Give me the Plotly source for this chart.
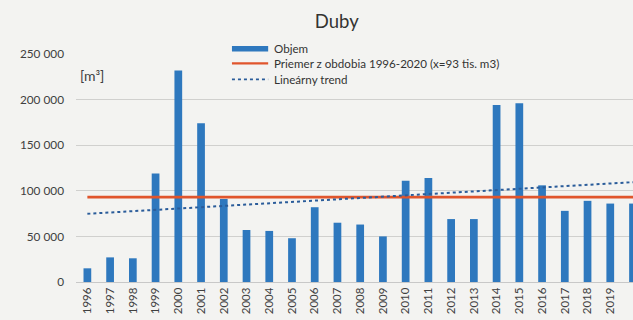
import numpy as np
import plotly.graph_objects as go

# Ročný objem ťažby dreva – duby [m3]
years = list(range(1996, 2021))
volume = [15000, 27000, 26000, 119000, 232000, 174000, 91000, 57000, 56000, 48000,
          82000, 65000, 63000, 50000, 111000, 114000, 69000, 69000, 194000, 196000,
          106000, 78000, 89000, 86000, 86000]
mean_value = 93000  # priemer z obdobia 1996-2020 (x=93 tis. m3)
y_ticks = [0, 50000, 100000, 150000, 200000, 250000]
y_tick_labels = ["0", "50 000", "100 000", "150 000", "200 000", "250 000"]
series_names = ["Objem", "Priemer z obdobia 1996-2020 (x=93 tis. m3)", "Lineárny trend"]

# lineárny trend cez ročné hodnoty
coef = np.polyfit(years, volume, 1)
trend = np.polyval(coef, years)

FONT = "Lato, 'Open Sans', sans-serif"
TEXT = "#404040"
BG = "#f3f3f1"
BAR_COLOR = "#2E78BE"
MEAN_COLOR = "#E0552C"
TREND_COLOR = "#2A5C9A"

fig = go.Figure()
fig.add_trace(go.Bar(
    x=years, y=volume, name=series_names[0],
    marker=dict(color=BAR_COLOR, line=dict(width=0)),
))
fig.add_trace(go.Scatter(
    x=years, y=[mean_value] * len(years), mode="lines", name=series_names[1],
    line=dict(color=MEAN_COLOR, width=2.8),
))
fig.add_trace(go.Scatter(
    x=years, y=trend, mode="lines", name=series_names[2],
    line=dict(color=TREND_COLOR, width=2, dash="dot"),
))

# legenda: pozadie, značky a popisy
shapes = [
    dict(type="rect", xref="paper", yref="paper", x0=0.246, x1=0.803, y0=0.833, y1=1.057,
         fillcolor=BG, line=dict(width=0), layer="above"),
    dict(type="rect", xref="paper", yref="paper", x0=0.280, x1=0.345, y0=1.011, y1=1.035,
         fillcolor=BAR_COLOR, line=dict(width=0), layer="above"),
    dict(type="line", xref="paper", yref="paper", x0=0.280, x1=0.345, y0=0.959, y1=0.959,
         line=dict(color=MEAN_COLOR, width=2.4), layer="above"),
    dict(type="line", xref="paper", yref="paper", x0=0.280, x1=0.345, y0=0.889, y1=0.889,
         line=dict(color=TREND_COLOR, width=1.8, dash="dot"), layer="above"),
]
legend_rows = [1.026, 0.958, 0.888]
annotations = [
    dict(text=name, xref="paper", yref="paper", x=0.351, y=yy, xanchor="left",
         yanchor="middle", showarrow=False,
         font=dict(size=11.6, color="#333333", family=FONT))
    for name, yy in zip(series_names, legend_rows)
]
annotations.append(dict(
    text="[m³]", xref="paper", yref="paper", x=0.004, y=0.905,
    xanchor="left", yanchor="middle", showarrow=False,
    font=dict(size=14, color=TEXT, family=FONT),
))

fig.update_layout(
    width=633, height=320,
    margin=dict(l=76, r=0, t=54, b=38),
    paper_bgcolor=BG, plot_bgcolor=BG,
    font=dict(family=FONT, color=TEXT, size=10),
    title=dict(text="Duby", x=0.532, xanchor="center", y=0.934, yanchor="middle",
               font=dict(size=18.5, color="#333333", family=FONT)),
    bargap=0.66,
    showlegend=False,
    shapes=shapes,
    annotations=annotations,
    xaxis=dict(
        range=[1995.5, 2020.0], tickmode="array", tickvals=years,
        ticktext=[str(y) for y in years], tickangle=-90,
        showgrid=False, showline=True, linecolor="#c8c8c8", linewidth=1,
        ticks="", tickfont=dict(size=11.5, color=TEXT, family=FONT),
        zeroline=False, fixedrange=True,
    ),
    yaxis=dict(
        range=[0, 250000], tickmode="array", tickvals=y_ticks, ticktext=y_tick_labels,
        showgrid=True, gridcolor="#d0d0ce", gridwidth=1,
        zeroline=False, showline=False, ticks="", ticklabelstandoff=11,
        tickfont=dict(size=11.8, color=TEXT, family=FONT),
    ),
)

fig.write_html("out.html")
